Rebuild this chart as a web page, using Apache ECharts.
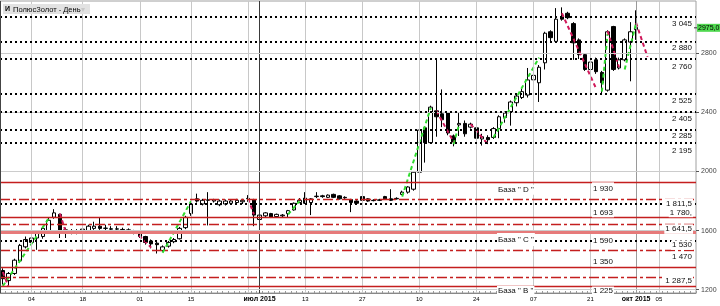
<!DOCTYPE html>
<html><head><meta charset="utf-8">
<script src="https://cdn.jsdelivr.net/npm/echarts@6/dist/echarts.min.js"></script>
<style>html,body{margin:0;padding:0;background:#fff}#c{width:720px;height:306px}</style>
</head><body><div id="c"></div>
<script>
// ---- categories (trading days, then calendar days after the last bar) ----
const dates = [
'2015-04-24','2015-04-27','2015-04-28','2015-04-29','2015-04-30','2015-05-04','2015-05-05','2015-05-06','2015-05-07','2015-05-08',
'2015-05-12','2015-05-13','2015-05-14','2015-05-15','2015-05-18','2015-05-19','2015-05-20','2015-05-21','2015-05-22','2015-05-25',
'2015-05-26','2015-05-27','2015-05-28','2015-05-29','2015-06-01','2015-06-02','2015-06-03','2015-06-04','2015-06-05','2015-06-08',
'2015-06-09','2015-06-10','2015-06-11','2015-06-15','2015-06-16','2015-06-17','2015-06-18','2015-06-19','2015-06-22','2015-06-23',
'2015-06-24','2015-06-25','2015-06-26','2015-06-29','2015-06-30','2015-07-01','2015-07-02','2015-07-03','2015-07-06','2015-07-07',
'2015-07-08','2015-07-09','2015-07-10','2015-07-13','2015-07-14','2015-07-15','2015-07-16','2015-07-17','2015-07-20','2015-07-21',
'2015-07-22','2015-07-23','2015-07-24','2015-07-27','2015-07-28','2015-07-29','2015-07-30','2015-07-31','2015-08-03','2015-08-04',
'2015-08-05','2015-08-06','2015-08-07','2015-08-10','2015-08-11','2015-08-12','2015-08-13','2015-08-14','2015-08-17','2015-08-18',
'2015-08-19','2015-08-20','2015-08-21','2015-08-24','2015-08-25','2015-08-26','2015-08-27','2015-08-28','2015-08-31','2015-09-01',
'2015-09-02','2015-09-03','2015-09-04','2015-09-07','2015-09-08','2015-09-09','2015-09-10','2015-09-11','2015-09-14','2015-09-15',
'2015-09-16','2015-09-17','2015-09-18','2015-09-21','2015-09-22','2015-09-23','2015-09-24','2015-09-25','2015-09-28','2015-09-29',
'2015-09-30','2015-10-01'];
const futureDates = ['2015-10-02','2015-10-03','2015-10-04','2015-10-05','2015-10-06','2015-10-07','2015-10-08','2015-10-09','2015-10-10','2015-10-11'];

// ---- candles: [open, close, low, high] ----
const candles = [
[1330,1275,1235,1345],[1262,1310,1225,1320],[1310,1400,1300,1410],[1395,1500,1385,1510],[1490,1540,1480,1560],
[1520,1550,1460,1565],[1550,1590,1470,1600],[1560,1615,1545,1625],[1600,1670,1590,1685],[1690,1720,1680,1745],
[1710,1600,1550,1715],[1605,1595,1550,1620],[1600,1585,1575,1610],[1585,1600,1575,1610],[1595,1610,1585,1620],
[1600,1630,1595,1640],[1615,1630,1605,1660],[1630,1615,1605,1685],[1615,1617,1600,1640],[1612,1610,1600,1630],
[1610,1612,1595,1630],[1608,1605,1595,1620],[1605,1600,1590,1615],[1600,1585,1575,1605],[1590,1560,1550,1595],
[1560,1520,1505,1565],[1530,1510,1480,1540],[1515,1505,1445,1525],[1465,1490,1455,1500],[1495,1520,1485,1530],
[1525,1540,1515,1550],[1545,1615,1540,1625],[1620,1690,1610,1700],[1715,1780,1700,1800],[1815,1800,1790,1850],
[1780,1805,1770,1815],[1805,1808,1635,1860],[1800,1808,1790,1815],[1775,1800,1765,1810],[1780,1800,1770,1810],
[1785,1800,1775,1810],[1790,1805,1785,1815],[1795,1805,1780,1815],[1818,1815,1795,1840],[1810,1705,1630,1815],
[1675,1705,1650,1710],[1700,1720,1690,1725],[1715,1690,1685,1720],[1695,1710,1690,1715],[1700,1705,1690,1712],
[1715,1735,1690,1740],[1740,1785,1735,1790],[1790,1805,1785,1820],[1820,1785,1780,1860],[1790,1815,1705,1820],
[1830,1833,1820,1860],[1835,1830,1822,1842],[1825,1840,1820,1845],[1845,1825,1820,1850],[1835,1815,1810,1840],
[1825,1822,1815,1832],[1810,1790,1725,1815],[1800,1785,1780,1805],[1830,1805,1800,1900],[1815,1800,1795,1820],
[1805,1803,1798,1812],[1805,1808,1800,1815],[1830,1815,1810,1835],[1815,1805,1800,1880],[1815,1818,1810,1825],
[1845,1860,1840,1870],[1860,1895,1850,1900],[1880,1995,1870,2000],[1995,2280,1990,2290],[2295,2195,2060,2300],
[2195,2435,2190,2445],[2410,2370,2235,2755],[2390,2350,2300,2555],[2395,2260,2245,2400],[2240,2200,2170,2250],
[2315,2325,2240,2395],[2325,2255,2235,2345],[2300,2320,2290,2330],[2295,2225,2160,2310],[2220,2235,2175,2255],
[2230,2215,2185,2245],[2230,2290,2220,2300],[2290,2370,2225,2380],[2365,2395,2330,2405],[2400,2470,2310,2480],
[2465,2510,2440,2520],[2500,2540,2490,2560],[2517,2619,2500,2700],[2620,2650,2600,2680],[2600,2705,2470,2720],
[2735,2935,2690,2945],[2945,2905,2870,2955],[2880,3030,2870,3105],[3045,3030,3020,3110],[3070,3040,3030,3080],
[3000,2870,2755,3010],[2890,2790,2760,2900],[2790,2690,2680,2800],[2690,2740,2680,2760],[2755,2675,2660,2770],
[2670,2600,2517,2680],[2550,2945,2540,2955],[2980,2690,2680,2985],[2700,2755,2690,2770],[2755,2890,2745,2900],
[2875,2945,2610,3010],[2960,2975,2890,3090]];

// ---- swing lines: pairs of [bar index, price] ----
const upSwings = [
[[0,1225],[8,1680]],[[28,1450],[33,1800]],[[50,1710],[52,1800]],[[70,1830],[75,2430]],
[[79,2185],[80,2320]],[[86,2230],[94,2770]],[[105,2540],[106,2930]],[[109,2690],[111,3005]]];
const downSwings = [
[[0,1320],[1,1220]],[[10,1715],[11,1595]],[[23,1600],[26,1485]],[[43,1815],[44,1710]],
[[76,2410],[79,2200]],[[82,2320],[85,2185]],[[98,3070],[104,2560]],[[106,2950],[108,2705]],[[111,3005],[113,2775]]];

// ---- horizontal levels ----
const dottedLevels = [3045, 2880, 2760, 2525, 2405, 2285, 2195, 1780, 1530];
const solidLevels = [1930, 1693, 1350, 1225];
const thickLevels = [1590];
const dashDotLevels = [1811.5, 1641.5, 1470, 1287.5];
const rightLabels = [
['3 045',3045],['2 880',2880],['2 760',2760],['2 525',2525],['2 405',2405],['2 285',2285],['2 195',2195],
['1 811,5',1811.5],['1 780,',1780],['1 641,5',1641.5],['1 530',1530],['1 470',1470],['1 287,5',1287.5]];
const midLabels = [['1 930',1930],['1 693',1693],['1 590',1590],['1 350',1350],['1 225',1225]];
const baseLabels = [['База " D "',1930],['База " C "',1590],['База " B "',1225]];

// ---- axis ticks / labels ----
const yTicks = [1200, 1600, 2000, 2400, 2800];
const gridDates = ['2015-05-04','2015-05-18','2015-06-01','2015-06-15','2015-06-29','2015-07-13','2015-07-27','2015-08-10','2015-08-24','2015-09-07','2015-09-21','2015-10-05'];
const quarterDates = ['2015-07-01','2015-10-01'];
const xLabels = {'2015-05-04':'04','2015-05-18':'18','2015-06-01':'01','2015-06-15':'15','2015-07-01':'июл 2015',
'2015-07-13':'13','2015-07-27':'27','2015-08-10':'10','2015-08-24':'24','2015-09-07':'07','2015-09-21':'21',
'2015-10-01':'окт 2015','2015-10-05':'05'};
const title = 'ПолюсЗолот - День';

// ---- layout (pixel offsets of level labels, below/above their line) ----
const rightDy = [7,6,7.5,7,7,6.6,8,4,8.5,4.6,4.2,6.6,3.6];
const midDy = [6.5,-4,8.4,-5.7,5];
const baseDy = [8,7.5,5];

const cats = dates.concat(futureDates);
const chart = echarts.init(document.getElementById('c'), null, {renderer:'canvas'});
const RED = '#c41e1e';
const ml = (items, z) => ({type:'line', data:[], z:z, silent:true,
  markLine:{silent:true, symbol:['none','none'], animation:false, label:{show:false}, data:items}});

const series = [
  ml(gridDates.map(d=>({xAxis:d, lineStyle:{color:'#c8c8c8', width:1, type:'solid'}}))
    .concat([{xAxis:quarterDates[0], lineStyle:{color:'#3a3a3a', width:1, type:'solid'}},
             {xAxis:quarterDates[1], lineStyle:{color:'#9a9a9a', width:1, type:'solid'}}])
    .concat(yTicks.map(v=>({yAxis:v, lineStyle:{color:'#cccccc', width:1, type:'solid'}}))), 1),
  ml([].concat(
    dottedLevels.map(v=>({yAxis:v, lineStyle:{color:'#000', width:2, type:[2,3]}})),
    solidLevels.map(v=>({yAxis:v, lineStyle:{color:RED, width:1.4, type:'solid'}})),
    thickLevels.map(v=>({yAxis:v, lineStyle:{color:'#e67a7a', width:3, type:'solid'}})),
    dashDotLevels.map(v=>({yAxis:v, lineStyle:{color:RED, width:1.4, type:[10,3,3,3]}}))
  ), 2),
  {type:'candlestick', data:candles, z:3, barWidth:4,
   itemStyle:{color:'#ffffff', color0:'#000000', borderColor:'#000000', borderColor0:'#000000', borderWidth:1}}
];
upSwings.forEach(s=>series.push({type:'line', data:s, symbol:'none', z:4, silent:true,
  lineStyle:{color:'#2fdc2f', width:2, type:[4,3]}}));
downSwings.forEach(s=>series.push({type:'line', data:s, symbol:'none', z:4, silent:true,
  lineStyle:{color:'#d0185a', width:2, type:[4,3]}}));

chart.setOption({
  animation:false,
  grid:{left:-2.6, right:24, top:1, bottom:13, show:true, borderColor:'#a0a0a0', borderWidth:1},
  xAxis:{type:'category', data:cats, boundaryGap:true,
    axisLine:{show:true, lineStyle:{color:'#888'}},
    axisTick:{show:true, inside:true, length:2, interval:0, lineStyle:{color:'#999'}},
    splitLine:{show:false},
    axisLabel:{interval:(i,v)=>v in xLabels, margin:3, fontSize:6, color:'#000', fontFamily:'Liberation Sans',
      formatter:v=>{const t=xLabels[v]||''; return quarterDates.indexOf(v)>=0 ? '{q|'+t+'}' : t;},
      rich:{q:{fontSize:7, fontWeight:'bold', color:'#000', fontFamily:'Liberation Sans'}}}},
  yAxis:{type:'value', position:'right', min:1178, max:3153, scale:true,
    axisLine:{show:false}, splitLine:{show:false},
    axisTick:{show:true, length:3, customValues:yTicks, lineStyle:{color:'#555'}},
    axisLabel:{customValues:yTicks, formatter:v=>String(Math.round(v)), fontSize:7, color:'#444', margin:5, fontFamily:'Liberation Sans'}},
  series:series
});

const py = v => chart.convertToPixel({yAxisIndex:0}, v);
const txt = (x, y, text, align, font, pad, bg) => ({type:'text', z:100, x:x, y:y, silent:true,
  style:{text:text, align:align, verticalAlign:'middle', fill:'#111', font:font, backgroundColor:bg||'#fff', padding:pad}});
const F = '8px "Liberation Sans"';
const g = [];
rightLabels.forEach((l,i)=>g.push(txt(693, py(l[1])+rightDy[i], l[0], 'right', F, [1.5,1,0,1])));
midLabels.forEach((l,i)=>g.push(txt(592, py(l[1])+midDy[i], l[0], 'left', F, [i===0?4:1,1,0,1])));
baseLabels.forEach((l,i)=>g.push(txt(497, py(l[1])+baseDy[i], l[0], 'left', F, [i===1?5:2,1,0,1])));
// left border
g.push({type:'line', z:100, silent:true, shape:{x1:0.5,y1:1,x2:0.5,y2:293}, style:{stroke:'#444', lineWidth:1}});
// title box
g.push({type:'rect', z:100, silent:true, shape:{x:3, y:4, width:87, height:10}, style:{fill:'#e2e2e2'}});
g.push({type:'text', z:101, silent:true, x:5, y:9.5, style:{text:'И', font:'bold 7px "Liberation Sans"', fill:'#000', verticalAlign:'middle'}});
g.push({type:'text', z:101, silent:true, x:13, y:9.5, style:{text:title, font:'7.5px "Liberation Sans"', fill:'#000', verticalAlign:'middle'}});
g.push({type:'text', z:101, silent:true, x:81, y:9.5, style:{text:'▾', font:'8px "DejaVu Sans"', fill:'#c8c8c8', verticalAlign:'middle'}});
// last price box
const last = candles[candles.length-1][1];
const ly = py(last);
g.push({type:'rect', z:100, silent:true, shape:{x:697, y:ly-3.5, width:23, height:8}, style:{fill:'#4fd84f'}});
g.push({type:'line', z:100, silent:true, shape:{x1:694, y1:ly+0.5, x2:697, y2:ly+0.5}, style:{stroke:'#333', lineWidth:1}});
g.push({type:'text', z:101, silent:true, x:698, y:ly+0.5, style:{text:last.toFixed(1).replace('.',','), font:'7px "Liberation Sans"', fill:'#000', verticalAlign:'middle'}});
chart.setOption({graphic:g});
</script></body></html>
